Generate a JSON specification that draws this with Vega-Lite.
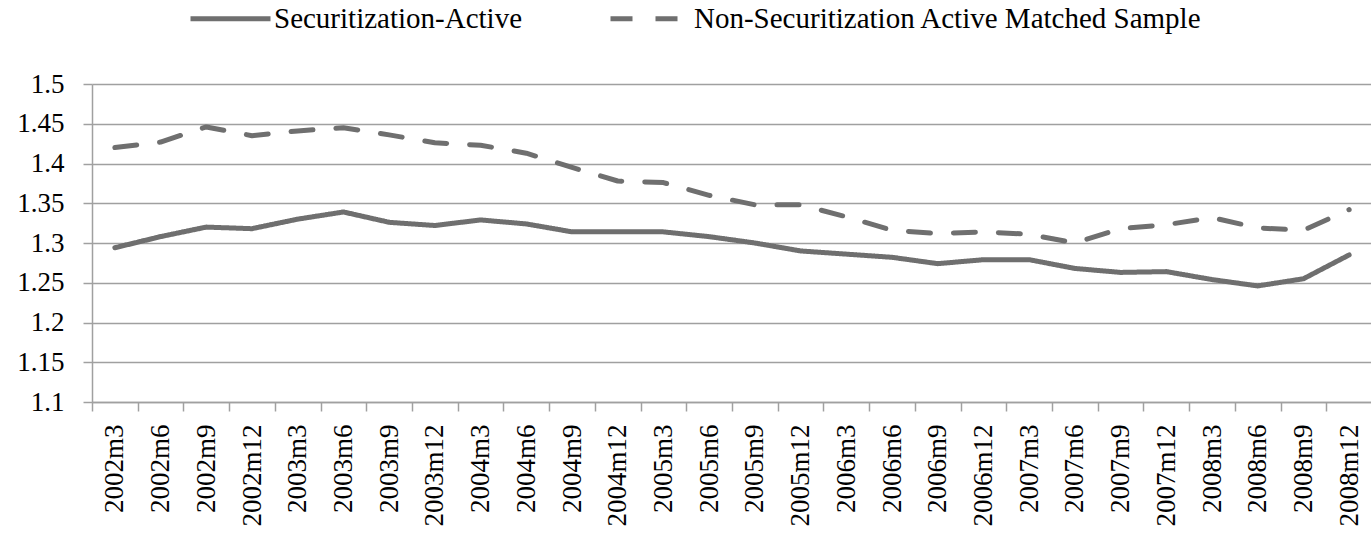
{
  "$schema": "https://vega.github.io/schema/vega-lite/v6.json",
  "width": 1280,
  "height": 318,
  "autosize": {"type": "none"},
  "padding": {"left": 92, "top": 84, "right": 0, "bottom": 137},
  "background": "white",
  "config": {"view": {"stroke": null}, "font": "Liberation Serif, Times New Roman, serif"},
  "data": {"values": [
    {"q": "2002m3", "s": "Securitization-Active", "v": 1.294},
    {"q": "2002m6", "s": "Securitization-Active", "v": 1.308},
    {"q": "2002m9", "s": "Securitization-Active", "v": 1.320},
    {"q": "2002m12", "s": "Securitization-Active", "v": 1.318},
    {"q": "2003m3", "s": "Securitization-Active", "v": 1.330},
    {"q": "2003m6", "s": "Securitization-Active", "v": 1.339},
    {"q": "2003m9", "s": "Securitization-Active", "v": 1.326},
    {"q": "2003m12", "s": "Securitization-Active", "v": 1.322},
    {"q": "2004m3", "s": "Securitization-Active", "v": 1.329},
    {"q": "2004m6", "s": "Securitization-Active", "v": 1.324},
    {"q": "2004m9", "s": "Securitization-Active", "v": 1.314},
    {"q": "2004m12", "s": "Securitization-Active", "v": 1.314},
    {"q": "2005m3", "s": "Securitization-Active", "v": 1.314},
    {"q": "2005m6", "s": "Securitization-Active", "v": 1.308},
    {"q": "2005m9", "s": "Securitization-Active", "v": 1.300},
    {"q": "2005m12", "s": "Securitization-Active", "v": 1.290},
    {"q": "2006m3", "s": "Securitization-Active", "v": 1.286},
    {"q": "2006m6", "s": "Securitization-Active", "v": 1.282},
    {"q": "2006m9", "s": "Securitization-Active", "v": 1.274},
    {"q": "2006m12", "s": "Securitization-Active", "v": 1.279},
    {"q": "2007m3", "s": "Securitization-Active", "v": 1.279},
    {"q": "2007m6", "s": "Securitization-Active", "v": 1.268},
    {"q": "2007m9", "s": "Securitization-Active", "v": 1.263},
    {"q": "2007m12", "s": "Securitization-Active", "v": 1.264},
    {"q": "2008m3", "s": "Securitization-Active", "v": 1.254},
    {"q": "2008m6", "s": "Securitization-Active", "v": 1.246},
    {"q": "2008m9", "s": "Securitization-Active", "v": 1.255},
    {"q": "2008m12", "s": "Securitization-Active", "v": 1.285},
    {"q": "2002m3", "s": "Non-Securitization Active Matched Sample", "v": 1.420},
    {"q": "2002m6", "s": "Non-Securitization Active Matched Sample", "v": 1.427},
    {"q": "2002m9", "s": "Non-Securitization Active Matched Sample", "v": 1.446},
    {"q": "2002m12", "s": "Non-Securitization Active Matched Sample", "v": 1.435},
    {"q": "2003m3", "s": "Non-Securitization Active Matched Sample", "v": 1.441},
    {"q": "2003m6", "s": "Non-Securitization Active Matched Sample", "v": 1.445},
    {"q": "2003m9", "s": "Non-Securitization Active Matched Sample", "v": 1.436},
    {"q": "2003m12", "s": "Non-Securitization Active Matched Sample", "v": 1.426},
    {"q": "2004m3", "s": "Non-Securitization Active Matched Sample", "v": 1.423},
    {"q": "2004m6", "s": "Non-Securitization Active Matched Sample", "v": 1.413},
    {"q": "2004m9", "s": "Non-Securitization Active Matched Sample", "v": 1.395},
    {"q": "2004m12", "s": "Non-Securitization Active Matched Sample", "v": 1.378},
    {"q": "2005m3", "s": "Non-Securitization Active Matched Sample", "v": 1.376},
    {"q": "2005m6", "s": "Non-Securitization Active Matched Sample", "v": 1.360},
    {"q": "2005m9", "s": "Non-Securitization Active Matched Sample", "v": 1.348},
    {"q": "2005m12", "s": "Non-Securitization Active Matched Sample", "v": 1.348},
    {"q": "2006m3", "s": "Non-Securitization Active Matched Sample", "v": 1.333},
    {"q": "2006m6", "s": "Non-Securitization Active Matched Sample", "v": 1.316},
    {"q": "2006m9", "s": "Non-Securitization Active Matched Sample", "v": 1.312},
    {"q": "2006m12", "s": "Non-Securitization Active Matched Sample", "v": 1.314},
    {"q": "2007m3", "s": "Non-Securitization Active Matched Sample", "v": 1.311},
    {"q": "2007m6", "s": "Non-Securitization Active Matched Sample", "v": 1.300},
    {"q": "2007m9", "s": "Non-Securitization Active Matched Sample", "v": 1.318},
    {"q": "2007m12", "s": "Non-Securitization Active Matched Sample", "v": 1.323},
    {"q": "2008m3", "s": "Non-Securitization Active Matched Sample", "v": 1.332},
    {"q": "2008m6", "s": "Non-Securitization Active Matched Sample", "v": 1.319},
    {"q": "2008m9", "s": "Non-Securitization Active Matched Sample", "v": 1.316},
    {"q": "2008m12", "s": "Non-Securitization Active Matched Sample", "v": 1.342}
  ]},
  "mark": {"type": "line", "color": "#6f6f6f", "strokeWidth": 5, "strokeCap": "round", "strokeJoin": "round"},
  "encoding": {
    "x": {
      "field": "q", "type": "ordinal", "sort": null,
      "scale": {"type": "band", "paddingInner": 0, "paddingOuter": 0},
      "axis": {
        "title": null, "labelAngle": -90, "labelFont": "Liberation Serif, Times New Roman, serif", "labelFontSize": 27,
        "labelColor": "#000", "domainColor": "#a0a0a0", "domainWidth": 1.5,
        "tickColor": "#a0a0a0", "tickWidth": 1.5, "tickSize": 9, "tickBand": "extent",
        "labelPadding": 13, "grid": false
      }
    },
    "y": {
      "field": "v", "type": "quantitative",
      "scale": {"domain": [1.1, 1.5], "nice": false, "zero": false},
      "axis": {
        "title": null, "values": [1.1, 1.15, 1.2, 1.25, 1.3, 1.35, 1.4, 1.45, 1.5],
        "format": "~g", "labelFont": "Liberation Serif, Times New Roman, serif", "labelFontSize": 27, "labelColor": "#000",
        "domainColor": "#a0a0a0", "domainWidth": 1.5, "tickColor": "#a0a0a0", "tickWidth": 1.5,
        "tickSize": 9, "labelPadding": 19, "grid": true, "gridColor": "#a0a0a0", "gridWidth": 1.5
      }
    },
    "strokeDash": {
      "field": "s", "type": "nominal",
      "scale": {"domain": ["Securitization-Active", "Non-Securitization Active Matched Sample"], "range": [[1, 0], [22, 23]]},
      "legend": {
        "title": null, "orient": "none", "legendX": 96, "legendY": -108, "direction": "horizontal",
        "labelFont": "Liberation Serif, Times New Roman, serif", "labelFontSize": 29, "labelColor": "#000",
        "symbolType": "stroke", "symbolSize": 6400, "symbolStrokeWidth": 5, "symbolStrokeColor": "#6f6f6f",
        "columnPadding": 77, "labelOffset": 1, "labelLimit": 0
      }
    }
  }
}
